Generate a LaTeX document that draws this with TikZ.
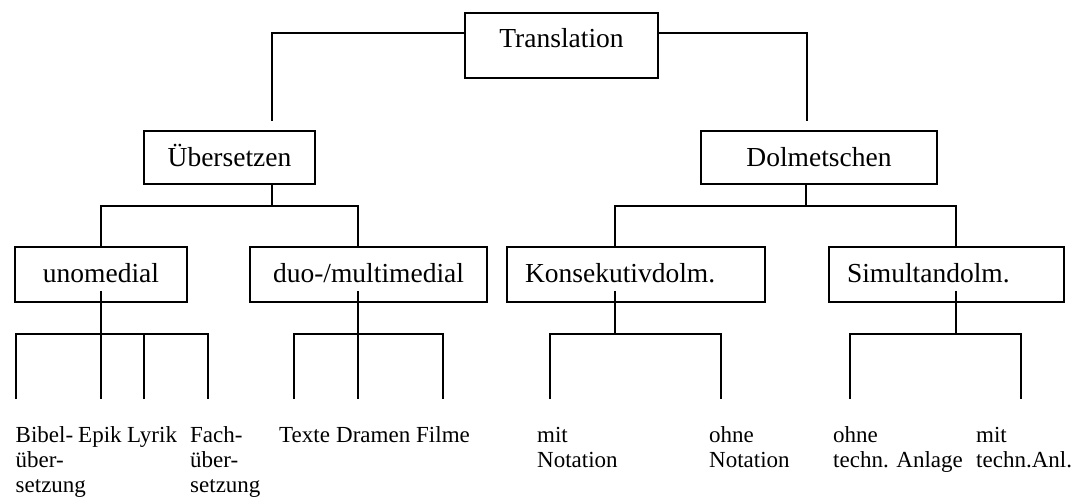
\documentclass[tikz,border=0pt]{standalone}
\usepackage{fontspec}
\setmainfont{Liberation Serif}

\begin{document}
\begin{tikzpicture}[x=1pt,y=-1pt,
  box/.style={draw, rectangle, line width=2pt, inner sep=0pt, font=\fontsize{27.5}{30}\selectfont},
  lvlzero/.style={text height=19pt, text depth=14pt},
  lvlone/.style={text height=19pt, text depth=0pt},
  lvltwo/.style={text height=19pt, text depth=2pt},
  leaf/.style={anchor=base west, inner sep=0pt, align=left, font=\fontsize{23}{25}\selectfont},
  conn/.style={line width=2pt}]
\useasboundingbox (0,0) rectangle (1077,497);
\node (tr) at (561.5,45.5) [box, lvlzero, minimum width=193pt, minimum height=65pt] {Translation};
\node (ue) at (229.5,157.5) [box, lvlone, minimum width=171pt, minimum height=53pt] {Übersetzen};
\node (do) at (819,157.5) [box, lvlone, minimum width=236pt, minimum height=53pt] {Dolmetschen};
\node (uno) at (101,274.5) [box, lvltwo, minimum width=172pt, minimum height=55pt] {unomedial};
\node (duo) at (368.5,274.5) [box, lvltwo, minimum width=237pt, minimum height=55pt] {duo-/multimedial};
\node (kon) at (636,274.5) [box, lvltwo, minimum width=258pt, minimum height=55pt, text width=222pt, inner xsep=18pt, align=left] {Konsekutivdolm.};
\node (sim) at (946.5,274.5) [box, lvltwo, minimum width=235pt, minimum height=55pt, text width=199pt, inner xsep=18pt, align=left] {Simultandolm.};
% leaves (base = baseline of the last line)
\node (bib) at (15.5,492) [leaf] {Bibel-\\über-\\setzung};
\node (epi) at (78,442) [leaf] {Epik};
\node (lyr) at (127,442) [leaf] {Lyrik};
\node (fac) at (190,492) [leaf] {Fach-\\über-\\setzung};
\node (tex) at (279,442) [leaf] {Texte};
\node (dra) at (336,442) [leaf] {Dramen};
\node (fil) at (416,442) [leaf] {Filme};
\node (mno) at (537,467) [leaf] {mit\\Notation};
\node (ono) at (709,467) [leaf] {ohne\\Notation};
\node (ota) at (833,467) [leaf] {ohne\\techn. Anlage};
\node (mta) at (976,467) [leaf] {mit\\techn.Anl.};
% junctions and line ends
\coordinate (ue in) at (272,121);
\coordinate (do in) at (807,121);
\coordinate (ue j) at (272,206);
\coordinate (do j) at (806,206);
\coordinate (uno j) at (101,334);
\coordinate (duo j) at (358,334);
\coordinate (kon j) at (615,334);
\coordinate (sim j) at (956,334);
\coordinate (a1) at (15.5,399);
\coordinate (a2) at (101,399);
\coordinate (a3) at (144,399);
\coordinate (a4) at (208,399);
\coordinate (b1) at (294,399);
\coordinate (b2) at (358,399);
\coordinate (b3) at (443,399);
\coordinate (c1) at (550,399);
\coordinate (c2) at (721,399);
\coordinate (d1) at (850,399);
\coordinate (d2) at (1021,399);
\draw[conn]
([yshift=12.5pt]tr.west) -| (ue in)
([yshift=12.5pt]tr.east) -| (do in)
(ue.south -| ue j) -- (ue j)
(uno.north) |- (ue j) -| ([xshift=-10.5pt]duo.north)
(do.south -| do j) -- (do j)
([xshift=-21pt]kon.north) |- (do j) -| ([xshift=9.5pt]sim.north)
([yshift=-16.5pt]uno.center) -- (uno j)
(a1) |- (uno j) -| (a4)
(uno j) -- (a2)
(a3) -- (a3 |- uno j)
([xshift=-10.5pt,yshift=-16.5pt]duo.center) -- (duo j)
(b1) |- (duo j) -| (b3)
(duo j) -- (b2)
([xshift=-21pt,yshift=-16.5pt]kon.center) -- (kon j)
(c1) |- (kon j) -| (c2)
([xshift=9.5pt,yshift=-16.5pt]sim.center) -- (sim j)
(d1) |- (sim j) -| (d2);
\end{tikzpicture}
\end{document}
